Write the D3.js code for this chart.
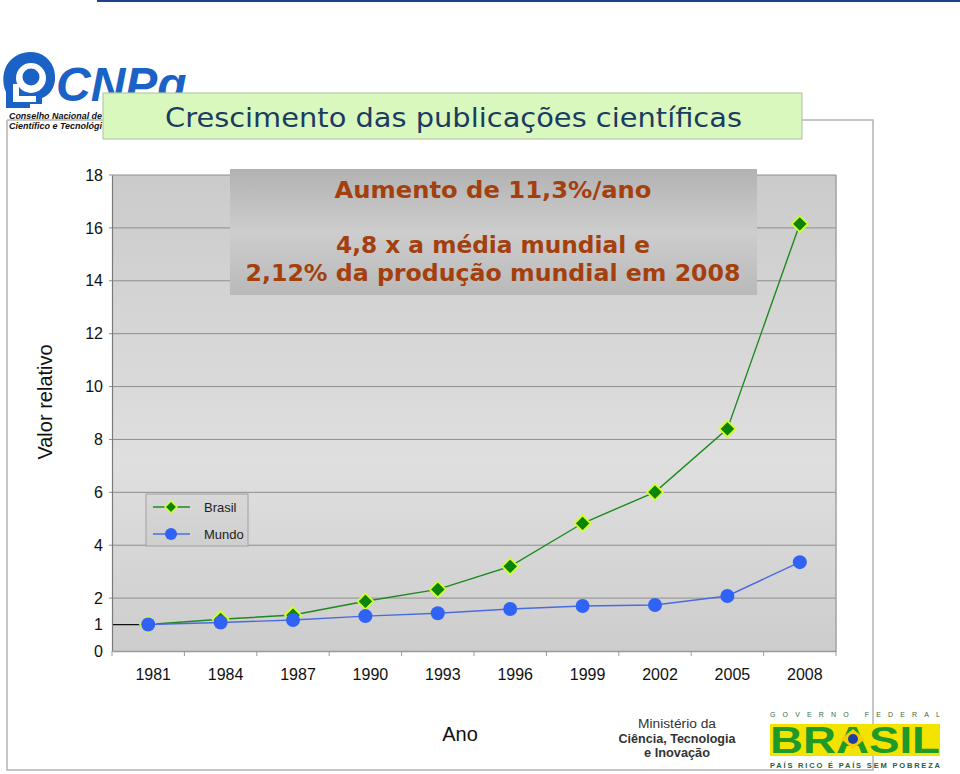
<!DOCTYPE html>
<html>
<head>
<meta charset="utf-8">
<script src="https://cdn.jsdelivr.net/npm/d3@7"></script>
<style>
  html, body { margin: 0; padding: 0; background: #ffffff; }
  svg { display: block; }
</style>
</head>
<body>
<script>
// ---- data ----
const years = ["1981", "1984", "1987", "1990", "1993", "1996", "1999", "2002", "2005", "2008"];
const brasil = [1.0, 1.2, 1.36, 1.88, 2.33, 3.2, 4.83, 6.01, 8.4, 16.15];
const mundo = [1.0, 1.08, 1.17, 1.32, 1.43, 1.59, 1.7, 1.74, 2.08, 3.36];
const yTickValues = [0, 1, 2, 4, 6, 8, 10, 12, 14, 16, 18];
const gridValues = [2, 4, 6, 8, 10, 12, 14, 16, 18];
const seriesNames = ["Brasil", "Mundo"];
const titleText = "Crescimento das publicações científicas";
const noteLines = ["Aumento de 11,3%/ano", "4,8 x a média mundial e", "2,12% da produção mundial em 2008"];

const W = 960, H = 774;
const svg = d3.select("body").append("svg").attr("width", W).attr("height", H);
const defs = svg.append("defs");

// gradients
const gPlot = defs.append("linearGradient").attr("id", "gPlot").attr("x1", 0).attr("y1", 0).attr("x2", 0).attr("y2", 1);
gPlot.append("stop").attr("offset", "0%").attr("stop-color", "#cbcbcb");
gPlot.append("stop").attr("offset", "60%").attr("stop-color", "#dfdfdf");
gPlot.append("stop").attr("offset", "100%").attr("stop-color", "#cdcdcd");

const gNote = defs.append("linearGradient").attr("id", "gNote").attr("x1", 0).attr("y1", 0).attr("x2", 0).attr("y2", 1);
gNote.append("stop").attr("offset", "0%").attr("stop-color", "#b2b2b2");
gNote.append("stop").attr("offset", "50%").attr("stop-color", "#cdcdcd");
gNote.append("stop").attr("offset", "100%").attr("stop-color", "#b9b9b9");

const gLeg = defs.append("linearGradient").attr("id", "gLeg").attr("x1", 0).attr("y1", 0).attr("x2", 0).attr("y2", 1);
gLeg.append("stop").attr("offset", "0%").attr("stop-color", "#d8d8d8");
gLeg.append("stop").attr("offset", "100%").attr("stop-color", "#cfcfcf");

// top blue rule
svg.append("rect").attr("x", 97).attr("y", 0).attr("width", W - 97).attr("height", 2).attr("fill", "#1f3f8f");

// slide frame
svg.append("path")
  .attr("d", "M7,120 H103 M802,120 H873 V770 H7 V120")
  .attr("fill", "none").attr("stroke", "#b4b4b4").attr("stroke-width", 1.5);

// ---- chart ----
const margin = { left: 112, right: 836, top: 175, bottom: 651 };
const x = d3.scaleBand().domain(years).range([margin.left, margin.right]).padding(0);
const y = d3.scaleLinear().domain([0, 18]).range([margin.bottom, margin.top]);
const cx = d => x(d) + x.bandwidth() / 2;

const plot = svg.append("g");
plot.append("rect")
  .attr("x", margin.left).attr("y", margin.top)
  .attr("width", margin.right - margin.left).attr("height", margin.bottom - margin.top)
  .attr("fill", "url(#gPlot)");

// gridlines
plot.append("g").selectAll("line").data(gridValues).join("line")
  .attr("x1", margin.left - 3).attr("x2", margin.right)
  .attr("y1", d => y(d)).attr("y2", d => y(d))
  .attr("stroke", "#8e8e8e").attr("stroke-width", 1);

// right border
plot.append("line").attr("x1", margin.right).attr("x2", margin.right)
  .attr("y1", margin.top).attr("y2", margin.bottom)
  .attr("stroke", "#a2a2a2").attr("stroke-width", 1.5);

// y axis
const yAxis = d3.axisLeft(y).tickValues(yTickValues).tickSize(0).tickPadding(9);
const gy = svg.append("g").attr("transform", `translate(${margin.left},0)`).call(yAxis);
gy.select(".domain").attr("stroke", "#7a7a7a").attr("stroke-width", 1.2);
gy.selectAll("text").attr("font-family", "Liberation Sans, Arial, sans-serif").attr("font-size", 16).attr("fill", "#111");

// x axis
const xAxis = d3.axisBottom(x).tickSize(0).tickPadding(18);
const gx = svg.append("g").attr("transform", `translate(0,${margin.bottom})`).call(xAxis);
gx.select(".domain").attr("stroke", "#9a9a9a").attr("stroke-width", 1.5);
gx.selectAll("text").attr("font-family", "Liberation Sans, Arial, sans-serif").attr("font-size", 16).attr("fill", "#111").attr("dx", 5);
// x boundary ticks
const bounds = years.map(d => x(d)).concat([margin.right]);
gx.append("g").selectAll("line").data(bounds).join("line")
  .attr("x1", d => d).attr("x2", d => d).attr("y1", 0).attr("y2", 5)
  .attr("stroke", "#9a9a9a").attr("stroke-width", 1);

// reference segment at value 1 from axis to first point
plot.append("line")
  .attr("x1", margin.left).attr("x2", cx(years[0]))
  .attr("y1", y(1)).attr("y2", y(1))
  .attr("stroke", "#111").attr("stroke-width", 1.2);

const line = d3.line().x((d, i) => cx(years[i])).y(d => y(d));

// Brasil
plot.append("path").datum(brasil).attr("d", line)
  .attr("fill", "none").attr("stroke", "#1e8a1e").attr("stroke-width", 1.4);
const diamondPath = "M0,-8 L8,0 L0,8 L-8,0 Z";
plot.append("g").selectAll("path").data(brasil).join("path")
  .attr("d", diamondPath)
  .attr("transform", (d, i) => `translate(${cx(years[i])},${y(d)})`)
  .attr("fill", "#0b840b").attr("stroke", "#d4ff2a").attr("stroke-width", 1.8);

// Mundo
plot.append("path").datum(mundo).attr("d", line)
  .attr("fill", "none").attr("stroke", "#4a6be0").attr("stroke-width", 1.4);
plot.append("g").selectAll("circle").data(mundo).join("circle")
  .attr("cx", (d, i) => cx(years[i])).attr("cy", d => y(d)).attr("r", 7)
  .attr("fill", "#3063f5");

// legend
const leg = svg.append("g").attr("transform", "translate(146,494)");
leg.append("rect").attr("width", 102).attr("height", 52).attr("fill", "url(#gLeg)").attr("stroke", "#a9a9a9").attr("stroke-width", 1.2);
seriesNames.forEach((name, i) => {
  const ly = 13 + i * 27;
  leg.append("line").attr("x1", 7).attr("x2", 44).attr("y1", ly).attr("y2", ly)
    .attr("stroke", i === 0 ? "#1e8a1e" : "#4a6be0").attr("stroke-width", 1.4);
  if (i === 0) {
    leg.append("path").attr("d", "M0,-6 L6,0 L0,6 L-6,0 Z").attr("transform", `translate(25,${ly})`)
      .attr("fill", "#0b840b").attr("stroke", "#d4ff2a").attr("stroke-width", 1.5);
  } else {
    leg.append("circle").attr("cx", 25).attr("cy", ly).attr("r", 6).attr("fill", "#3063f5");
  }
  leg.append("text").attr("x", 58).attr("y", ly + 5).text(name)
    .attr("font-family", "Liberation Sans, Arial, sans-serif").attr("font-size", 13).attr("fill", "#222");
});

// annotation box
const note = svg.append("g");
note.append("rect").attr("x", 230).attr("y", 169).attr("width", 527).attr("height", 126).attr("fill", "url(#gNote)");
const noteY = [198, 253, 281];
const noteW = [317, 314, 495];
noteLines.forEach((t, i) => {
  note.append("text").attr("x", 493).attr("y", noteY[i]).attr("text-anchor", "middle")
    .attr("font-family", "DejaVu Sans, Verdana, sans-serif").attr("font-weight", "bold")
    .attr("font-size", 23).attr("fill", "#a3400e")
    .attr("textLength", noteW[i]).attr("lengthAdjust", "spacingAndGlyphs").text(t);
});

// axis titles
svg.append("text").attr("transform", "translate(52,402) rotate(-90)").attr("text-anchor", "middle")
  .attr("font-family", "Liberation Sans, Arial, sans-serif").attr("font-size", 20).attr("fill", "#111")
  .text("Valor relativo");
svg.append("text").attr("x", 460).attr("y", 741).attr("text-anchor", "middle")
  .attr("font-family", "Liberation Sans, Arial, sans-serif").attr("font-size", 20).attr("fill", "#111")
  .text("Ano");

// ---- CNPq logo ----
const logo = svg.append("g");
const blue = "#1a62c6";
logo.append("path")
  .attr("d", "M6,108 L6,92 C2,84 2,70 9,62 C16,53 28,50 38,53 C50,57 56,68 55,80 C54,90 48,96 42,98 L42,104 L30,104 L30,108 Z")
  .attr("fill", blue);
logo.append("circle").attr("cx", 31).attr("cy", 78).attr("r", 15).attr("fill", "#fff");
logo.append("circle").attr("cx", 31).attr("cy", 77).attr("r", 8.5).attr("fill", blue);
logo.append("rect").attr("x", 13).attr("y", 84).attr("width", 6).attr("height", 18).attr("fill", "#fff");
logo.append("rect").attr("x", 19).attr("y", 96).attr("width", 17).attr("height", 6).attr("fill", "#fff");
logo.append("text").attr("x", 56).attr("y", 101).text("CNPq")
  .attr("font-family", "Liberation Sans, Arial, sans-serif").attr("font-weight", "bold").attr("font-style", "italic")
  .attr("font-size", 48).attr("fill", blue);
logo.append("text").attr("x", 9).attr("y", 119).text("Conselho Nacional de")
  .attr("font-family", "Liberation Sans, Arial, sans-serif").attr("font-weight", "bold").attr("font-style", "italic")
  .attr("font-size", 9.5).attr("textLength", 93).attr("lengthAdjust", "spacingAndGlyphs").attr("fill", "#111");
logo.append("text").attr("x", 9).attr("y", 129).text("Científico e Tecnológi")
  .attr("font-family", "Liberation Sans, Arial, sans-serif").attr("font-weight", "bold").attr("font-style", "italic")
  .attr("font-size", 9.5).attr("textLength", 93).attr("lengthAdjust", "spacingAndGlyphs").attr("fill", "#111");

// title box
svg.append("rect").attr("x", 103).attr("y", 93).attr("width", 699).attr("height", 46)
  .attr("fill", "#d9f8bd").attr("stroke", "#b9c9ad").attr("stroke-width", 1.2);
svg.append("text").attr("x", 165).attr("y", 127).text(titleText)
  .attr("font-family", "DejaVu Sans, Verdana, sans-serif").attr("font-size", 27)
  .attr("textLength", 577).attr("lengthAdjust", "spacingAndGlyphs")
  .attr("fill", "#1b3b62");

// ---- Ministry logo ----
const min = svg.append("g").attr("font-family", "Liberation Sans, Arial, sans-serif").attr("fill", "#333").attr("text-anchor", "middle");
min.append("text").attr("x", 677).attr("y", 728).attr("font-size", 12.5)
  .attr("textLength", 78).attr("lengthAdjust", "spacingAndGlyphs").text("Ministério da");
min.append("text").attr("x", 677).attr("y", 742.5).attr("font-size", 12.5).attr("font-weight", "bold")
  .attr("textLength", 117).attr("lengthAdjust", "spacingAndGlyphs").text("Ciência, Tecnologia");
min.append("text").attr("x", 677).attr("y", 757).attr("font-size", 12.5).attr("font-weight", "bold")
  .attr("textLength", 66).attr("lengthAdjust", "spacingAndGlyphs").text("e Inovação");

// ---- Governo Federal logo ----
const gov = svg.append("g");
gov.append("text").attr("x", 770).attr("y", 717).text("GOVERNO FEDERAL")
  .attr("font-family", "Liberation Sans, Arial, sans-serif").attr("font-size", 7)
  .attr("textLength", 170).attr("lengthAdjust", "spacing").attr("fill", "#3a6a3a");
gov.append("rect").attr("x", 770).attr("y", 724).attr("width", 170).attr("height", 32).attr("fill", "#f3e400");
gov.append("text").attr("x", 770).attr("y", 753).text("BRASIL")
  .attr("font-family", "Liberation Sans, Arial, sans-serif").attr("font-weight", "bold").attr("font-size", 36)
  .attr("textLength", 170).attr("lengthAdjust", "spacingAndGlyphs").attr("fill", "#1f9a2a");
gov.append("path").attr("d", "M853,729 L865,739 L853,749 L841,739 Z").attr("fill", "#f5d000");
gov.append("circle").attr("cx", 853).attr("cy", 739).attr("r", 5).attr("fill", "#1e40a0");
gov.append("text").attr("x", 770).attr("y", 768).text("PAÍS RICO É PAÍS SEM POBREZA")
  .attr("font-family", "Liberation Sans, Arial, sans-serif").attr("font-weight", "bold").attr("font-size", 7.5)
  .attr("textLength", 170).attr("lengthAdjust", "spacing").attr("fill", "#2b5f3a");
</script>
</body>
</html>
